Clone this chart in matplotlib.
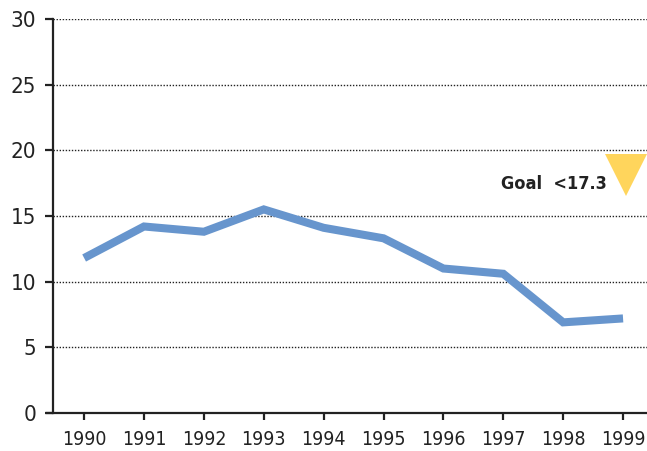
import matplotlib
matplotlib.use("Agg")
import matplotlib.pyplot as plt

# Yearly rate, 1990-1999, against the goal line
years = [1990, 1991, 1992, 1993, 1994, 1995, 1996, 1997, 1998, 1999]
rates = [11.8, 14.2, 13.8, 15.5, 14.1, 13.3, 11.0, 10.6, 6.9, 7.2]
goal = 17.3
goal_label = "Goal  <17.3"
y_ticks = [0, 5, 10, 15, 20, 25, 30]

plt.rcParams["font.family"] = ["DejaVu Sans"]
plt.rcParams["font.stretch"] = "condensed"

fig = plt.figure(figsize=(6.47, 4.51), dpi=100)
ax = fig.add_axes([0.0819, 0.0843, 0.9181, 0.8736])

ax.set_xlim(1989.48, 1999.4)
ax.set_ylim(0, 30)

# dotted horizontal guides
for y in y_ticks[1:]:
    ax.axhline(y, color="#222222", linestyle=(0, (1, 1.2)), linewidth=1.0, zorder=1)

ax.plot(years, rates, color="#6795cd", linewidth=5.8, solid_joinstyle="miter",
        solid_capstyle="butt", zorder=3)

# goal marker: downward triangle whose tip sits near the goal value
ax.plot([1999.05], [goal + 0.85], marker="v", markersize=30, color="#ffd55c",
        markeredgewidth=0, clip_on=False, zorder=4)
ax.text(1998.72, goal + 0.15, goal_label, ha="right", va="center",
        fontsize=13, fontweight="bold", color="#222222")

ax.set_xticks(years)
ax.set_xticklabels([str(y) for y in years], fontsize=14)
ax.set_yticks(y_ticks)
ax.set_yticklabels([str(y) for y in y_ticks], fontsize=16)

for side in ("top", "right"):
    ax.spines[side].set_visible(False)
for side in ("left", "bottom"):
    ax.spines[side].set_color("#222222")
    ax.spines[side].set_linewidth(1.6)
ax.spines["bottom"].set_bounds(1989.38, 1999.4)

ax.tick_params(axis="y", direction="out", length=6, width=1.6, color="#222222",
               pad=6, labelcolor="#222222")
ax.tick_params(axis="x", direction="out", length=5, width=1.6, color="#222222",
               pad=7, labelcolor="#222222")

fig.savefig("out.png", dpi=100)
